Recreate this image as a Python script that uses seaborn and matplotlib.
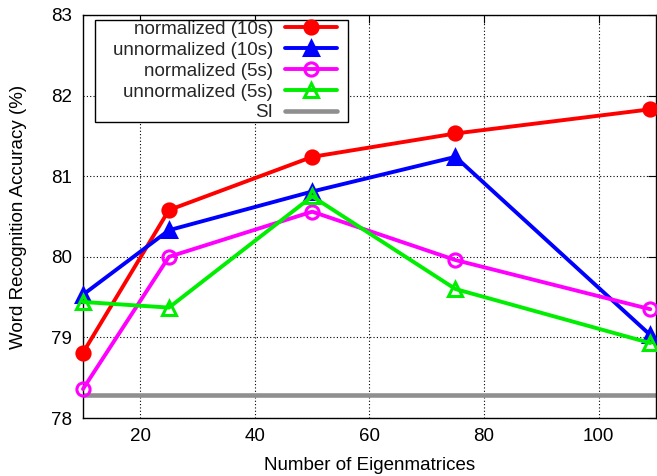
import seaborn as sns
import numpy as np
import matplotlib.pyplot as plt
import pandas as pd
from matplotlib.patches import Rectangle

# number of eigenmatrices on the x axis
eigen = [10, 25, 50, 75, 109]

norm_10s = [78.81, 80.58, 81.24, 81.53, 81.83]
unnorm_10s = [79.53, 80.33, 80.81, 81.24, 79.03]
norm_5s = [78.36, 80.00, 80.56, 79.96, 79.35]
unnorm_5s = [79.44, 79.37, 80.75, 79.60, 78.93]
si_level = 78.28

sns.set_theme(style="white")
plt.rcParams['font.family'] = ['Liberation Sans', 'DejaVu Sans']

fig = plt.figure(figsize=(6.57, 4.76), dpi=100)
ax = fig.add_axes([0.1263, 0.1218, 0.8722, 0.8467])

series = [
    ('normalized (10s)', norm_10s, '#ff0000', 'o', True),
    ('unnormalized (10s)', unnorm_10s, '#0000ff', '^', True),
    ('normalized (5s)', norm_5s, '#ff00ff', 'o', False),
    ('unnormalized (5s)', unnorm_5s, '#00ee00', '^', False),
]

for name, vals, col, mk, filled in series:
    df = pd.DataFrame({'x': eigen, 'y': vals})
    sns.lineplot(data=df, x='x', y='y', ax=ax, color=col, marker=mk,
                 linewidth=2.8, markersize=9.5 if mk == 'o' else 10.5,
                 markerfacecolor=col if filled else 'none',
                 markeredgecolor=col, markeredgewidth=2.2,
                 label=name, clip_on=False, zorder=3)

si_df = pd.DataFrame({'x': [10, 110], 'y': [si_level, si_level]})
sns.lineplot(data=si_df, x='x', y='y', ax=ax, color='#8f8f8f', linewidth=3.3,
             label='SI', zorder=2)

ax.set_xlim(10, 110)
ax.set_ylim(78, 83)
ax.set_xticks([20, 40, 60, 80, 100])
ax.set_yticks([78, 79, 80, 81, 82, 83])
ax.grid(True, color='black', linestyle=(0, (1, 2)), linewidth=0.8)
ax.tick_params(direction='in', length=6, width=0.8, top=True, right=True,
               labelsize=13.5, colors='black')
ax.tick_params(axis='y', pad=8)
ax.tick_params(axis='x', pad=7)
for s in ax.spines.values():
    s.set_color('black')
    s.set_linewidth(1.0)

ax.set_xlabel('Number of Eigenmatrices', fontsize=13.5, color='black')
ax.set_ylabel('Word Recognition Accuracy (%)', fontsize=13.5, color='black')
ax.xaxis.set_label_coords(0.5, -0.097)
ax.yaxis.set_label_coords(-0.097, 0.5)

# legend box, gnuplot style (wider padding on the left)
box = Rectangle((0.0209, 0.7345), 0.4416, 0.2531, transform=ax.transAxes,
                facecolor='white', edgecolor='black', linewidth=1.0, zorder=4)
ax.add_patch(box)
leg = ax.legend(loc='upper right', bbox_to_anchor=(0.4433, 0.9855), borderaxespad=0,
                markerfirst=False, fontsize=13.5, handlelength=2.77,
                frameon=False, labelspacing=0.2, borderpad=0, handletextpad=0.64)
leg.set_zorder(5)

plt.savefig("out.png", dpi=100)
